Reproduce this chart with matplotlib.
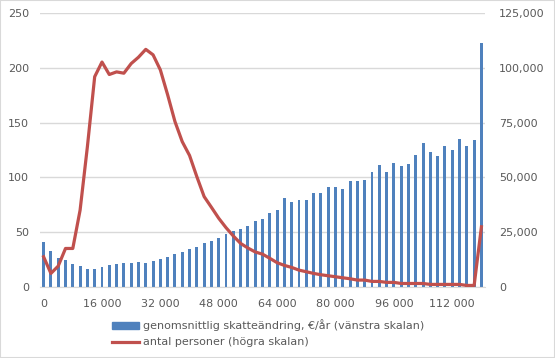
import matplotlib
matplotlib.use("Agg")
import matplotlib.pyplot as plt
import numpy as np
from matplotlib.patches import Rectangle
from matplotlib.lines import Line2D

income = list(range(0, 122000, 2000))
tax_change = [41, 32.6, 26.2, 24.4, 20.7, 18.9, 16.2, 16.2, 18, 19.8,
              20.7, 21.6, 21.6, 22.6, 21.6, 23.5, 25.3, 27.1, 29.9, 31.7,
              34.5, 36.3, 39.9, 41.8, 44.5, 48.2, 50.9, 52.7, 55.5, 60.1,
              61.9, 67.4, 70.1, 81.1, 77.4, 79.3, 79.3, 85.7, 85.7, 91.2,
              91.2, 89.3, 96.6, 96.6, 97.6, 104.9, 111.3, 104.9, 113.1, 110.4,
              112.2, 120.4, 131.4, 123.2, 119.5, 128.7, 125, 135.1, 128.7, 134.1,
              222.9]
persons = [13700, 6100, 9450, 17500, 17500, 35000, 64000, 96000, 102700, 97000,
           98200, 97600, 102000, 104900, 108500, 106000, 99100, 87700, 75500, 66300,
           60000, 50300, 41200, 36300, 31300, 27000, 23200, 19800, 17700, 15900,
           14900, 13000, 11000, 9750, 8840, 7600, 6860, 6100, 5490, 5030,
           4570, 4100, 3660, 3050, 3050, 2440, 2440, 2000, 2000, 1500,
           1500, 1500, 1500, 1070, 1070, 1070, 1070, 1070, 600, 600,
           27400]
tick_every = 8
left_ticks = [0, 50, 100, 150, 200, 250]
right_ticks = [0, 25000, 50000, 75000, 100000, 125000]
bar_label = "genomsnittlig skatteändring, €/år (vänstra skalan)"
line_label = "antal personer (högra skalan)"

bar_color = "#4F81BD"
line_color = "#C0504D"
text_color = "#595959"
grid_color = "#D9D9D9"

plt.rcParams['font.family'] = ['DejaVu Sans']
fig = plt.figure(figsize=(5.55, 3.58), dpi=100)
ax = fig.add_axes([0.072, 0.199, 0.802, 0.764])
x = np.arange(len(income))
ax.bar(x, tax_change, width=0.4, color=bar_color, zorder=2)
ax.set_xlim(-0.5, len(income) - 0.5)
ax.set_ylim(0, 250)
ax.set_yticks(left_ticks)
ax.set_yticklabels([str(v) for v in left_ticks])
ticks = x[::tick_every]
ax.set_xticks(ticks)
ax.set_xticklabels([f"{income[i]:,}".replace(",", " ") for i in ticks])
ax.grid(axis='y', color=grid_color, linewidth=1, zorder=0)
ax.set_axisbelow(True)
for s in ['top', 'right', 'left']:
    ax.spines[s].set_visible(False)
ax.spines['bottom'].set_color(grid_color)
ax.tick_params(axis='both', length=0, labelsize=8, colors=text_color)
ax.tick_params(axis='x', pad=9)
ax.tick_params(axis='y', pad=8)

ax2 = ax.twinx()
ax2.plot(x, persons, color=line_color, linewidth=2.3, zorder=3)
ax2.set_ylim(0, 125000)
ax2.set_yticks(right_ticks)
ax2.set_yticklabels([f"{v:,}" for v in right_ticks])
for s in ['top', 'right', 'left', 'bottom']:
    ax2.spines[s].set_visible(False)
ax2.tick_params(axis='y', length=0, labelsize=8, colors=text_color, pad=10)

handles = [Rectangle((0, 0), 1, 1, color=bar_color),
           Line2D([0], [0], color=line_color, linewidth=2.3)]
leg = fig.legend(handles, [bar_label, line_label], loc='upper left',
                 bbox_to_anchor=(0.202, 0.108), frameon=False, fontsize=8,
                 labelcolor=text_color, handlelength=2.4, handleheight=0.6,
                 handletextpad=0.35, labelspacing=0.55, borderaxespad=0, borderpad=0)

fig.patches.append(Rectangle((0, 0), 1, 1, transform=fig.transFigure,
                             fill=False, edgecolor=grid_color, linewidth=1.5))
fig.savefig("out.png", dpi=100)
